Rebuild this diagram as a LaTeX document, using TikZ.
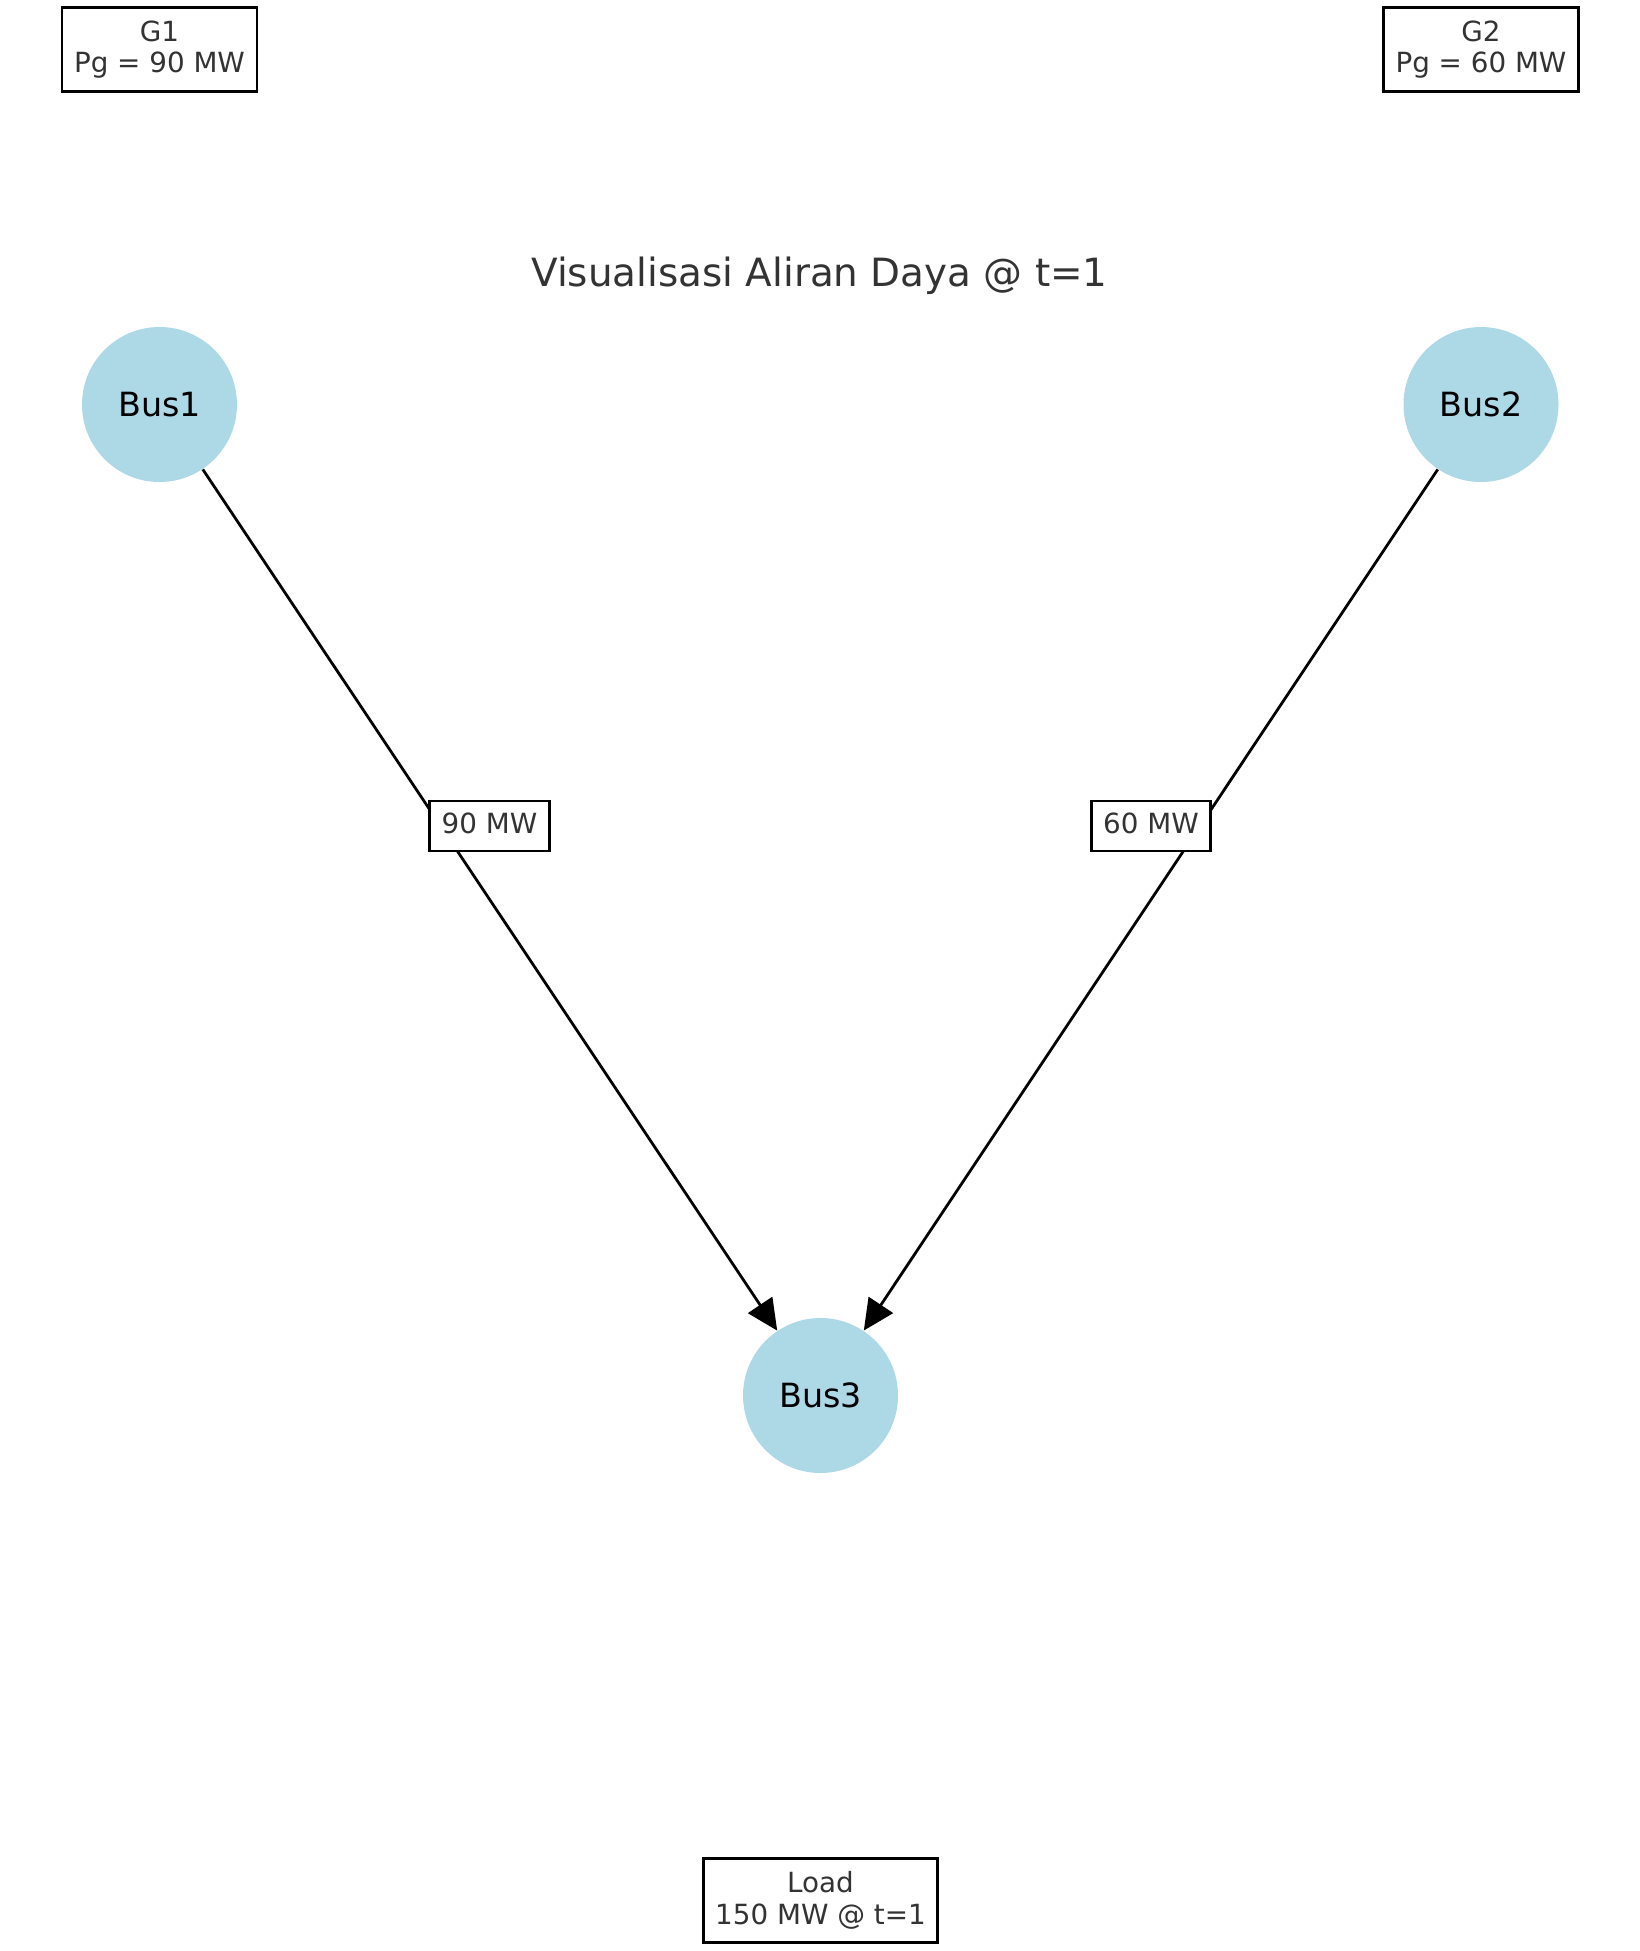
\documentclass[tikz,border=0pt]{standalone}
\usepackage{fontspec}
\setmainfont{DejaVu Sans}
\usetikzlibrary{arrows.meta}
\definecolor{lightblue}{RGB}{173,216,230}
\definecolor{labelgray}{RGB}{51,51,51}

\begin{document}
\begin{tikzpicture}[x=0.36pt,y=-0.36pt,
    bus/.style={circle,fill=lightblue,minimum size=55.8pt,inner sep=0pt,font=\fontsize{12}{14}\selectfont},
    infobox/.style={draw,line width=1pt,fill=white,text=labelgray,align=center,font=\fontsize{10}{11.4}\selectfont,inner xsep=4.3pt,minimum height=30.2pt},
    flowlabel/.style={draw,line width=1pt,fill=white,text=labelgray,font=\fontsize{10}{12}\selectfont,inner xsep=4.3pt,inner ysep=0pt,text height=7.6pt,text depth=2.4pt,minimum height=18pt},
    flow/.style={line width=1pt,-{Triangle[length=11.1pt,width=10.4pt]}}]
   \useasboundingbox (0,0) rectangle (1639,1951);
   \node[text=labelgray,font=\fontsize{14}{17}\selectfont,anchor=base] (title) at (819.5,286) {Visualisasi Aliran Daya @ t=1};
   \node[infobox] (g1) at (159.5,49.5) {G1\\Pg = 90 MW};
   \node[infobox] (g2) at (1481,49.5) {G2\\Pg = 60 MW};
   \node[infobox] (load) at (820.5,1900.5) {Load\\150 MW @ t=1};
   \node[bus] (bus1) at (159.5,404.5) {Bus1};
   \node[bus] (bus2) at (1481,404.5) {Bus2};
   \node[bus] (bus3) at (820.5,1395.5) {Bus3};
   \draw[flow] (bus1) -- (bus3);
   \draw[flow] (bus2) -- (bus3);
   \node[flowlabel] (f13) at (489.5,826) {90 MW};
   \node[flowlabel] (f23) at (1151,826) {60 MW};
\end{tikzpicture}
\end{document}
